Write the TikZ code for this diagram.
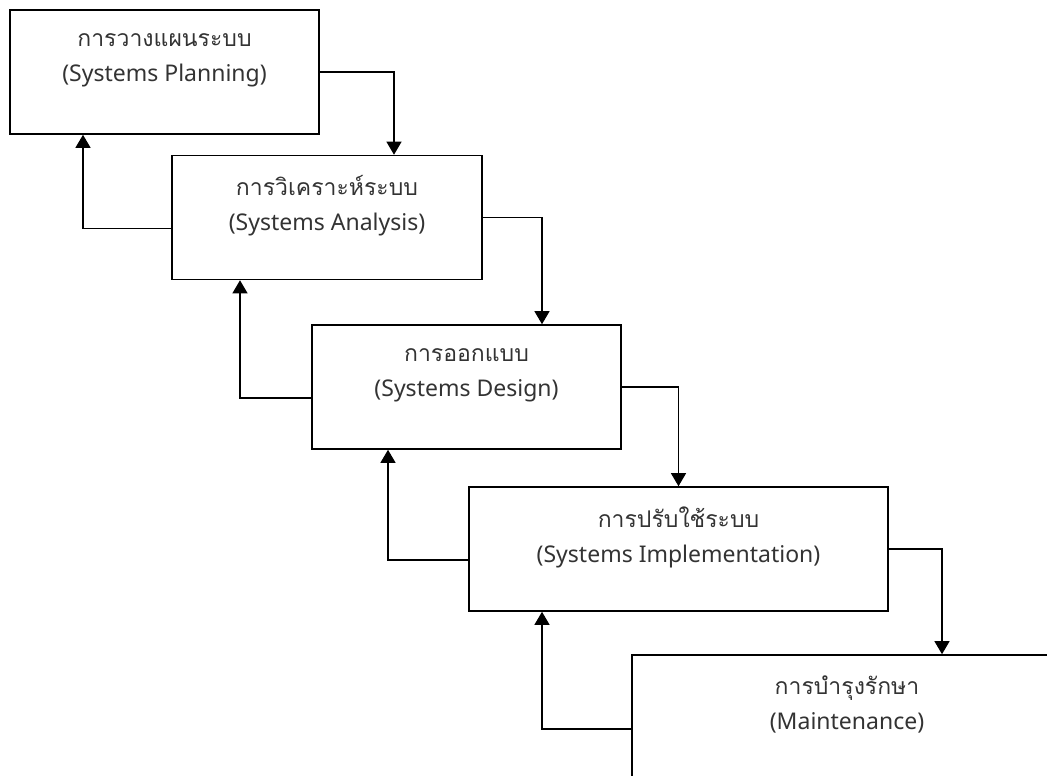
\documentclass[tikz,border=0pt]{standalone}
\usepackage{fontspec}
\setmainfont{Noto Sans}
\newfontfamily\thaifont[Script=Thai]{Loma}
\usetikzlibrary{arrows.meta}

\begin{document}
\begin{tikzpicture}[x=1pt, y=-1pt,
        stage/.style={draw, line width=1.6pt, align=center, minimum height=124pt,
            inner sep=0pt, text=black!80, font=\fontsize{23}{35}\selectfont},
        flow/.style={line width=1.1pt, -{Triangle[width=15pt,length=13pt]}}]
        \useasboundingbox (0,0) rectangle (1047,776);
        \clip (0,0) rectangle (1047,776);
        % stages, top left to bottom right
        \node[stage, minimum width=309pt] (plan)      at (164.5,72)  {{\thaifont การวางแผนระบบ}\\(Systems Planning)\\[-16pt]\strut};
        \node[stage, minimum width=310pt] (analysis)  at (327,217.5) {{\thaifont การวิเคราะห์ระบบ}\\(Systems Analysis)\\[-16pt]\strut};
        \node[stage, minimum width=309pt] (design)    at (466.5,387) {{\thaifont การออกแบบ}\\(Systems Design)\\[-16pt]\strut};
        \node[stage, minimum width=419pt] (implement) at (678.5,549) {{\thaifont การปรับใช้ระบบ}\\(Systems Implementation)\\[-16pt]\strut};
        \node[stage, minimum width=430pt] (maintain)  at (847,717)   {{\thaifont การบำรุงรักษา}\\(Maintenance)\\[-16pt]\strut};
        % forward flow down the steps
        \draw[flow] (plan.east)      -| ([xshift=67pt]analysis.north);
        \draw[flow] (analysis.east)  -| ([xshift=75.5pt]design.north);
        \draw[flow] (design.east)    -| (implement.north);
        \draw[flow] (implement.east) -| ([xshift=95pt]maintain.north);
        % feedback back up the steps
        \draw[flow] ([yshift=-11pt]analysis.west)  -| ([xshift=-81.5pt]plan.south);
        \draw[flow] ([yshift=-11pt]design.west)    -| ([xshift=-87pt]analysis.south);
        \draw[flow] ([yshift=-11pt]implement.west) -| ([xshift=-78.5pt]design.south);
        \draw[flow] ([yshift=-12pt]maintain.west)  -| ([xshift=-136.5pt]implement.south);
\end{tikzpicture}
\end{document}
